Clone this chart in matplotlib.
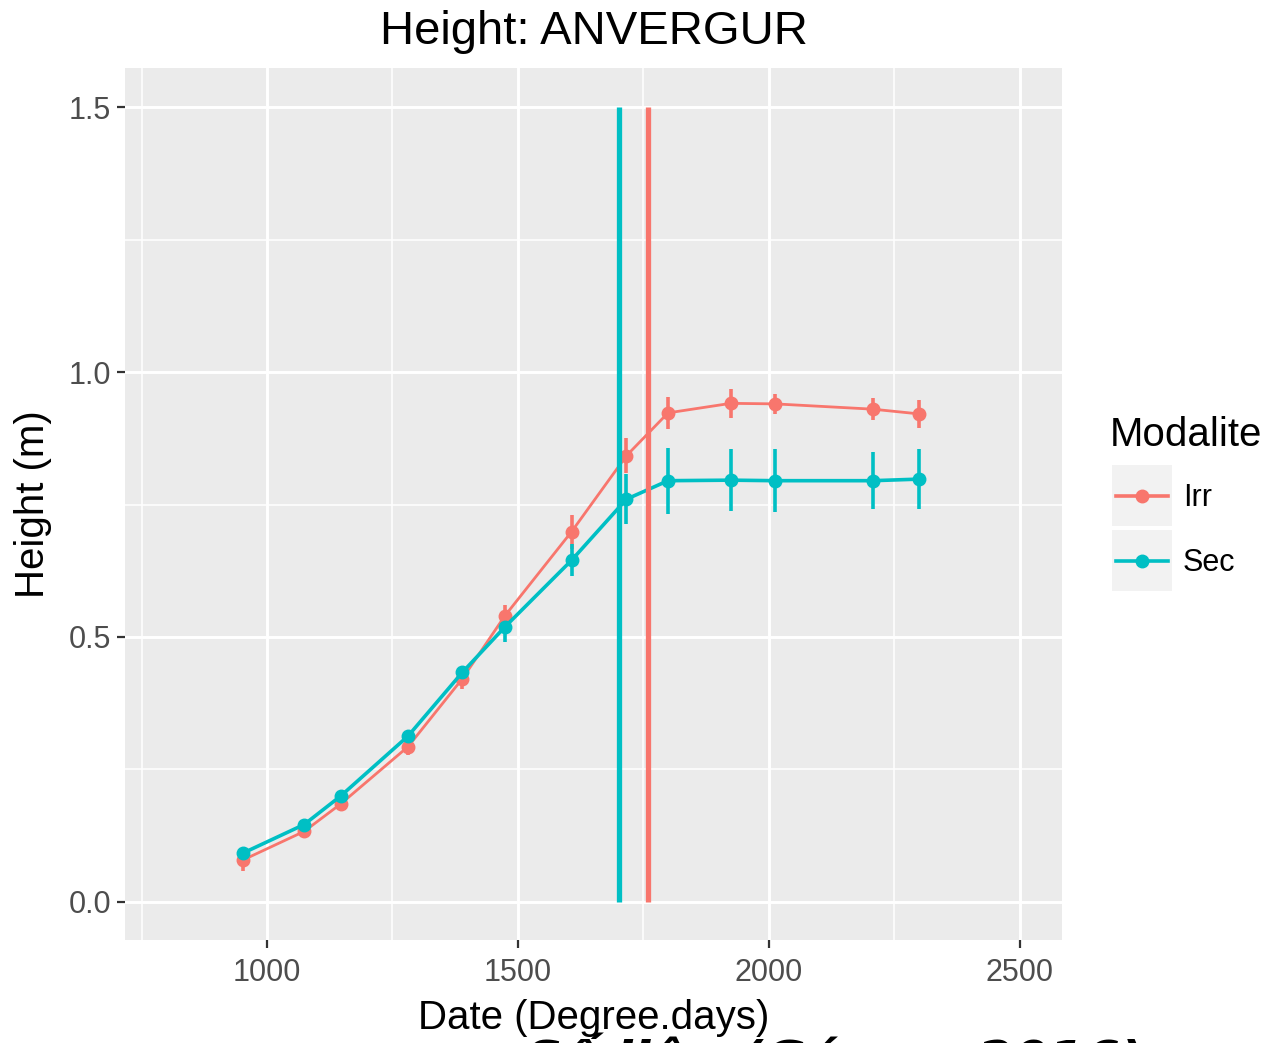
import matplotlib
matplotlib.use('Agg')
import matplotlib.pyplot as plt
from matplotlib.patches import Rectangle
from matplotlib.lines import Line2D

# data
degree_days = [952, 1074, 1147, 1281, 1389, 1474, 1607, 1716, 1799, 1924, 2012, 2207, 2300]
irr_height = [0.079, 0.133, 0.185, 0.293, 0.421, 0.540, 0.699, 0.842, 0.923, 0.941, 0.940, 0.930, 0.921]
irr_err = [0.020, 0.012, 0.012, 0.015, 0.020, 0.021, 0.032, 0.033, 0.030, 0.027, 0.019, 0.021, 0.027]
sec_height = [0.092, 0.146, 0.200, 0.313, 0.433, 0.519, 0.645, 0.760, 0.795, 0.796, 0.795, 0.795, 0.798]
sec_err = [0.008, 0.008, 0.008, 0.010, 0.012, 0.028, 0.030, 0.047, 0.062, 0.059, 0.059, 0.054, 0.057]
flowering = {'Irr': 1759, 'Sec': 1701}

x_ticks = [1000, 1500, 2000, 2500]
y_ticks = [0.0, 0.5, 1.0, 1.5]
y_tick_labels = ['0.0', '0.5', '1.0', '1.5']

RED = '#F8766D'
CYAN = '#00BFC4'

plt.rcParams['font.family'] = ['Liberation Sans', 'DejaVu Sans']

W, H = 1270, 1043
fig = plt.figure(figsize=(W / 100, H / 100), dpi=100)

# panel from pixel box
px0, px1, py0, py1 = 125, 1062, 68, 940
ax = fig.add_axes([px0 / W, 1 - py1 / H, (px1 - px0) / W, (py1 - py0) / H])
ax.set_facecolor('#EBEBEB')
for s in ax.spines.values():
    s.set_visible(False)

ax.set_xlim(717, 2584)
ax.set_ylim(-0.072, 1.574)
ax.set_xticks(x_ticks)
ax.set_xticklabels([str(t) for t in x_ticks])
ax.set_yticks(y_ticks)
ax.set_yticklabels(y_tick_labels)
ax.set_xticks([750, 1250, 1750, 2250], minor=True)
ax.set_yticks([0.25, 0.75, 1.25], minor=True)
ax.grid(which='major', color='white', linewidth=2.1)
ax.grid(which='minor', color='white', linewidth=1.1)
ax.set_axisbelow(True)
ax.tick_params(which='major', length=6, width=1.6, color='#333333',
               labelsize=22, labelcolor='#4D4D4D', pad=4)
ax.tick_params(axis='x', which='major', pad=7)
ax.tick_params(which='minor', length=0)

ax.errorbar(degree_days, irr_height, yerr=irr_err, fmt='-o', color=RED,
            lw=2.0, ms=9, elinewidth=2.6, capsize=0, zorder=3)
ax.errorbar(degree_days, sec_height, yerr=sec_err, fmt='-o', color=CYAN,
            lw=2.6, ms=9, elinewidth=2.6, capsize=0, zorder=3)

ax.vlines(flowering['Sec'], 0, 1.5, color=CYAN, lw=3.8, zorder=4)
ax.vlines(flowering['Irr'], 0, 1.5, color=RED, lw=3.8, zorder=4)

ax.set_title('Height: ANVERGUR', fontsize=34, pad=17)
ax.set_xlabel('Date (Degree.days)', fontsize=29, labelpad=8)
ax.set_ylabel('Height (m)', fontsize=29, labelpad=12)

# legend drawn in pixel coordinates
lg = fig.add_axes([1100 / W, 1 - 600 / H, 170 / W, 200 / H])
lg.set_xlim(1100, 1270)
lg.set_ylim(600, 400)
lg.axis('off')
lg.text(1110, 435, 'Modalite', fontsize=29, va='center', ha='left')
for i, (name, col) in enumerate([('Irr', RED), ('Sec', CYAN)]):
    top = 465 + i * 65
    lg.add_patch(Rectangle((1112, top), 60, 61, color='#F2F2F2', lw=0))
    cy = top + 31
    lg.add_line(Line2D([1116, 1168], [cy, cy], color=col, lw=2.6))
    lg.add_line(Line2D([1142], [cy], color=col, marker='o', ms=9))
    lg.text(1183, cy + 2, name, fontsize=22, va='center', ha='left')

# caption cut off at the bottom edge of the image
fig.text(525 / W, -0.034, 'Số liệu (Gómez 2016)', fontsize=37,
         fontweight='bold', fontstyle='italic', family='DejaVu Sans',
         ha='left', va='baseline')

fig.savefig('out.png', dpi=100)
